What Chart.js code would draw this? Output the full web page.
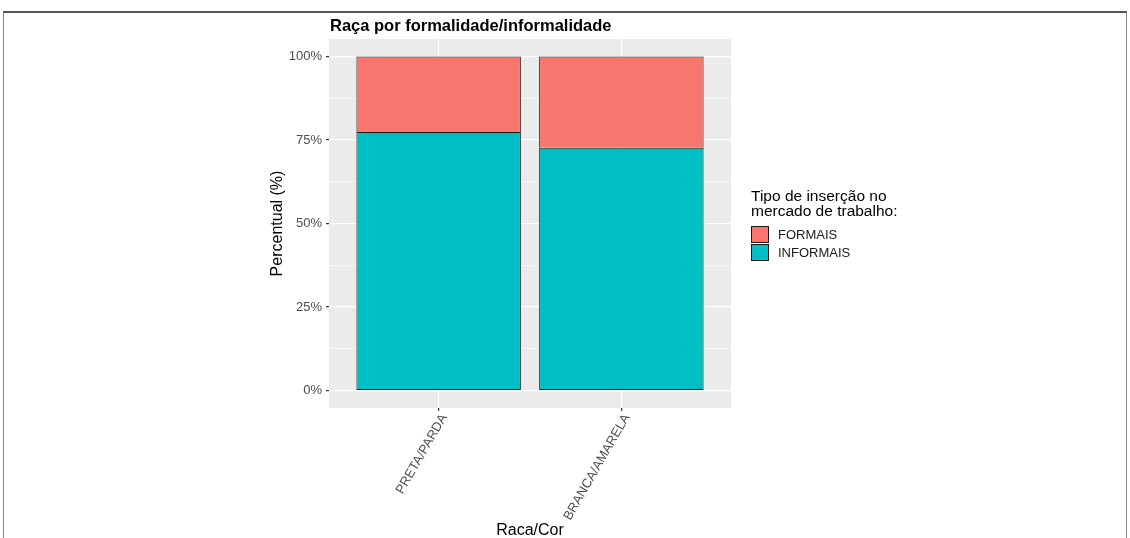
<!DOCTYPE html>
<html><head><meta charset="utf-8">
<script src="https://cdn.jsdelivr.net/npm/chart.js@4"></script>
<style>
html,body{margin:0;padding:0;background:#fff;}
#wrap{position:relative;width:1130px;height:538px;overflow:hidden;}
#frame{position:absolute;left:3px;top:11px;width:1122px;height:600px;border-top:2px solid #555;border-left:1px solid #888;border-right:1px solid #888;pointer-events:none;}
canvas{position:absolute;left:0;top:0;}
</style></head><body>
<div id="wrap"><canvas id="c" width="1130" height="538"></canvas><div id="frame"></div></div>
<script>
const categories = ['PRETA/PARDA', 'BRANCA/AMARELA'];
const informais = [77.4, 72.7];
const formais = [22.6, 27.3];
const seriesNames = ['FORMAIS', 'INFORMAIS'];
const seriesColors = ['#F8766D', '#00BFC4'];
const yMajorTicks = [0, 25, 50, 75, 100];
const yMinorTicks = [12.5, 37.5, 62.5, 87.5];
const chartTitle = 'Raça por formalidade/informalidade';
const xTitle = 'Raca/Cor';
const yTitle = 'Percentual (%)';
const legendTitle = ['Tipo de inserção no', 'mercado de trabalho:'];

const FONT = '"Liberation Sans", Arial, sans-serif';
const allYTicks = yMajorTicks.concat(yMinorTicks).sort((a, b) => a - b);
const isMajor = v => yMajorTicks.includes(v);

const decor = {
  id: 'decor',
  beforeDraw(chart) {
    const {ctx, chartArea: a} = chart;
    ctx.save();
    ctx.fillStyle = '#EBEBEB';
    ctx.fillRect(a.left, a.top, a.right - a.left, a.bottom - a.top);
    ctx.restore();
  },
  afterDraw(chart) {
    const {ctx, chartArea: a} = chart;
    const xs = chart.scales.x;
    ctx.save();
    // rotated category labels (ggplot angle=60, hjust=1, vjust=1)
    ctx.fillStyle = '#4D4D4D';
    ctx.font = '13px ' + FONT;
    chart.data.labels.forEach((lab, i) => {
      const px = xs.getPixelForTick(i);
      ctx.save();
      ctx.translate(px, a.bottom + 4);
      ctx.rotate(-Math.PI / 3);
      ctx.textAlign = 'right';
      ctx.textBaseline = 'top';
      ctx.fillText(lab, 0, 0);
      ctx.restore();
    });
    ctx.fillStyle = '#000';
    ctx.font = 'bold 16.5px ' + FONT;
    ctx.textAlign = 'left';
    ctx.textBaseline = 'alphabetic';
    ctx.fillText(chartTitle, a.left + 1, 31);
    ctx.font = '16px ' + FONT;
    ctx.textAlign = 'center';
    ctx.fillText(xTitle, (a.left + a.right) / 2, 535);
    ctx.save();
    ctx.translate(278, (a.top + a.bottom) / 2);
    ctx.rotate(-Math.PI / 2);
    ctx.textBaseline = 'middle';
    ctx.fillText(yTitle, 0, 0);
    ctx.restore();
    ctx.textAlign = 'left';
    ctx.font = '15.5px ' + FONT;
    ctx.fillText(legendTitle[0], 751, 201);
    ctx.fillText(legendTitle[1], 751, 216);
    const keyColors = {};
    chart.data.datasets.forEach(d => keyColors[d.label] = d.backgroundColor);
    seriesNames.forEach((name, i) => {
      const y = 226 + i * 18;
      ctx.fillStyle = keyColors[name];
      ctx.fillRect(751, y, 18, 17);
      ctx.strokeStyle = '#1a1a1a';
      ctx.lineWidth = 1;
      ctx.strokeRect(751.5, y + 0.5, 17, 16);
      ctx.fillStyle = '#1a1a1a';
      ctx.font = '13px ' + FONT;
      ctx.textBaseline = 'middle';
      ctx.fillText(name, 778, y + 9);
    });
    ctx.restore();
  }
};

new Chart(document.getElementById('c'), {
  type: 'bar',
  data: {
    labels: categories,
    datasets: [
      {label: seriesNames[1], data: informais, backgroundColor: seriesColors[1], borderWidth: 1},
      {label: seriesNames[0], data: formais, backgroundColor: seriesColors[0], borderWidth: {top: 1, left: 1, right: 1, bottom: 0}}
    ].map(d => Object.assign(d, {
      borderColor: '#1a1a1a', borderSkipped: false,
      categoryPercentage: 1, barPercentage: 0.9
    }))
  },
  options: {
    responsive: false,
    animation: false,
    devicePixelRatio: 1,
    layout: {padding: {top: 39, right: 399, left: 0, bottom: 0}},
    plugins: {legend: {display: false}, title: {display: false}, tooltip: {enabled: false}},
    scales: {
      x: {
        stacked: true,
        offset: true,
        afterBuildTicks: s => { s._startValue = -0.6; s._valueRange = 2.2; },
        afterFit: s => { s.height = 130; },
        border: {display: false},
        grid: {offset: false, color: '#FFFFFF', lineWidth: 1.2, drawTicks: true, tickLength: 3, tickColor: '#333333'},
        ticks: {display: false, autoSkip: false}
      },
      y: {
        stacked: true,
        min: -5.2,
        max: 105.2,
        afterBuildTicks: s => { s.ticks = allYTicks.map(v => ({value: v})); },
        afterFit: s => { s.width = 329; },
        border: {display: false},
        grid: {
          color: '#FFFFFF',
          lineWidth: c => isMajor(c.tick.value) ? 1.2 : 0.6,
          drawTicks: true, tickLength: 3,
          tickColor: c => isMajor(c.tick.value) ? '#333333' : 'rgba(0,0,0,0)'
        },
        ticks: {
          color: '#4D4D4D', font: {size: 13, family: FONT}, padding: 4, autoSkip: false,
          callback: v => isMajor(v) ? v + '%' : ''
        }
      }
    }
  },
  plugins: [decor]
});
</script>
</body></html>
